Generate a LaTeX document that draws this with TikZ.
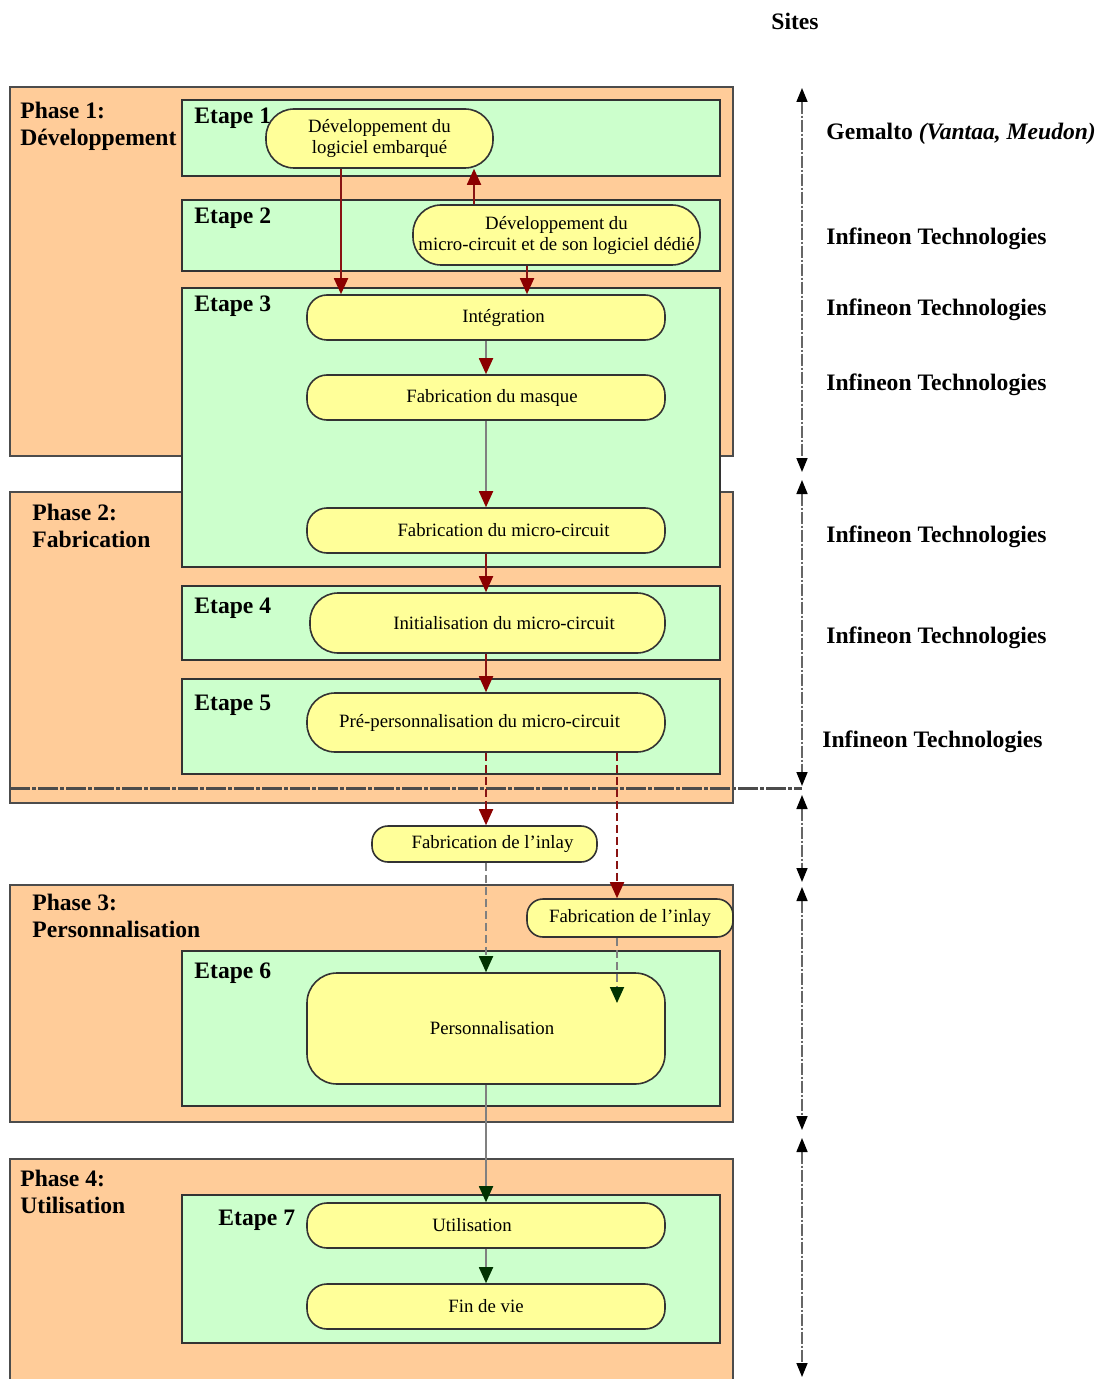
\documentclass[tikz,border=0pt]{standalone}
\usepackage{fontspec}
\setmainfont{Liberation Serif}
\usetikzlibrary{positioning,arrows.meta}

\definecolor{phasefill}{HTML}{FFCC99}
\definecolor{etapefill}{HTML}{CCFFCC}
\definecolor{activityfill}{HTML}{FFFF99}
\definecolor{flowred}{HTML}{8B0000}
\definecolor{flowgreen}{HTML}{003300}

\begin{document}
\begin{tikzpicture}[x=0.5pt, y=-0.5pt,
    phasebox/.style={draw=black!70, fill=phasefill, line width=1pt},
    etapebox/.style={draw=black!80, fill=etapefill, line width=1.2pt},
    activity/.style={draw=black!80, fill=activityfill, line width=0.8pt, inner sep=0pt, align=center,
        font=\fontsize{9.4}{10.5}\selectfont},
    titletext/.style={font=\fontsize{11.8}{13.5}\selectfont\bfseries, inner sep=0pt, align=left},
    redarrow/.style={draw=flowred!85!gray, line width=0.9pt, -{Triangle[length=8pt,width=7pt,color=flowred]}},
    grayred/.style={draw=gray, line width=0.9pt, -{Triangle[length=8pt,width=7pt,color=flowred]}},
    graygreen/.style={draw=gray, line width=0.9pt, -{Triangle[length=8pt,width=7pt,color=flowgreen]}},
    flowdash/.style={dash pattern=on 4pt off 2pt},
    siteaxis/.style={draw=black!60, line width=0.8pt, dash pattern=on 6pt off 1pt on 1pt off 1pt,
        {Triangle[length=7pt,width=5.5pt,color=black]}-{Triangle[length=7pt,width=5.5pt,color=black]}}
    ]
        \useasboundingbox (0,0) rectangle (1101,1379);

        %Phases
        \draw[phasebox] (10,87) rectangle (733,456);
        \draw[phasebox] (10,492) rectangle (733,803);
        \draw[phasebox] (10,885) rectangle (733,1122);
        \draw[phasebox] (10,1159) rectangle (733,1385);

        %Etapes
        \draw[etapebox] (182,100) rectangle (720,176);
        \draw[etapebox] (182,200) rectangle (720,271);
        \draw[etapebox] (182,288) rectangle (720,567);
        \draw[etapebox] (182,586) rectangle (720,660);
        \draw[etapebox] (182,679) rectangle (720,774);
        \draw[etapebox] (182,951) rectangle (720,1106);
        \draw[etapebox] (182,1195) rectangle (720,1343);

        %Titles
        \node[titletext, anchor=north west] (ph1) at (20,102)  {Phase 1:\\Développement};
        \node[titletext, anchor=north west] (ph2) at (32,504)  {Phase 2:\\Fabrication};
        \node[titletext, anchor=north west] (ph3) at (32,894)  {Phase 3:\\Personnalisation};
        \node[titletext, anchor=north west] (ph4) at (20,1170) {Phase 4:\\Utilisation};
        \node[titletext, anchor=base west] (et1) at (194,124)  {Etape 1};
        \node[titletext, anchor=base west] (et2) at (194,224)  {Etape 2};
        \node[titletext, anchor=base west] (et3) at (194,312)  {Etape 3};
        \node[titletext, anchor=base west] (et4) at (194,613)  {Etape 4};
        \node[titletext, anchor=base west] (et5) at (194,710)  {Etape 5};
        \node[titletext, anchor=base west] (et6) at (194,978)  {Etape 6};
        \node[titletext, anchor=base west] (et7) at (218,1225) {Etape 7};

        %Activities
        \node[activity, rounded corners=14pt, minimum width=113.5pt, minimum height=29.5pt]
            (devlog) at (379.5,138.5) {Développement du\\logiciel embarqué};
        \node[activity, rounded corners=14pt, minimum width=143.5pt, minimum height=30pt]
            (devmc) at (556.5,235) {Développement du\\micro-circuit et de son logiciel dédié};
        \node[activity, rounded corners=10pt, minimum width=179pt, minimum height=22.5pt]
            (integ) at (486,317.5) {\hspace*{17.5pt}Intégration};
        \node[activity, rounded corners=10pt, minimum width=179pt, minimum height=22.5pt]
            (masque) at (486,397.5) {\hspace*{6pt}Fabrication du masque};
        \node[activity, rounded corners=10pt, minimum width=179pt, minimum height=22.5pt]
            (fabmc) at (486,530.5) {\hspace*{17.5pt}Fabrication du micro-circuit};
        \node[activity, rounded corners=14pt, minimum width=177.5pt, minimum height=30pt]
            (init) at (487.5,623) {\hspace*{16.5pt}Initialisation du micro-circuit};
        \node[activity, rounded corners=14pt, minimum width=179pt, minimum height=29.5pt]
            (prepers) at (486,722.5) {Pré-personnalisation du micro-circuit\hspace*{6.5pt}};

        %Phase separator
        \draw[draw=black!70, line width=1.5pt, dash pattern=on 10pt off 1pt on 2pt off 1pt]
            (10,788) -- (802,788);

        \node[activity, rounded corners=8pt, minimum width=112.5pt, minimum height=18pt]
            (inlay1) at (484.5,844) {\hspace*{8pt}Fabrication de l’inlay};
        \node[activity, rounded corners=8pt, minimum width=103pt, minimum height=19pt]
            (inlay2) at (630,918) {Fabrication de l’inlay};
        \node[activity, rounded corners=15pt, minimum width=179pt, minimum height=55.5pt]
            (pers) at (486,1028.5) {\hspace*{6pt}Personnalisation};
        \node[activity, rounded corners=10pt, minimum width=179pt, minimum height=22.5pt]
            (util) at (486,1225.5) {Utilisation\hspace*{14pt}};
        \node[activity, rounded corners=10pt, minimum width=179pt, minimum height=22.5pt]
            (fin) at (486,1306.5) {Fin de vie};

        %Columns of the flows
        \coordinate (colA) at (341,0);
        \coordinate (colB) at (474,0);
        \coordinate (colC) at (527,0);
        \coordinate (colD) at (617,0);
        \coordinate (persin) at (617,1003);

        %Flows
        \draw[redarrow] (devlog.south -| colA) -- (integ.north -| colA);
        \draw[redarrow] (devmc.north -| colB) -- (devlog.south -| colB);
        \draw[redarrow] (devmc.south -| colC) -- (integ.north -| colC);
        \draw[grayred] (integ.south) -- (masque.north);
        \draw[grayred] (masque.south) -- (fabmc.north);
        \draw[redarrow] (fabmc.south) -- (fabmc.south |- init.north);
        \draw[redarrow] (init.south -| prepers.north) -- (prepers.north);
        \draw[redarrow, flowdash] (prepers.south) -- (prepers.south |- inlay1.north);
        \draw[redarrow, flowdash] (prepers.south -| colD) -- (inlay2.north -| colD);
        \draw[graygreen, flowdash] (inlay1.south -| pers.north) -- (pers.north);
        \draw[graygreen, flowdash] (inlay2.south -| colD) -- (persin);
        \draw[graygreen] (pers.south) -- (util.north);
        \draw[graygreen] (util.south) -- (fin.north);

        %Sites
        \node[titletext, anchor=base] (sites) at (795,30) {Sites};
        \node[titletext, anchor=base west] (site1) at (826,140) {Gemalto \textit{(Vantaa, Meudon)}};
        \node[titletext, anchor=base west] (site2) at (826,245) {Infineon Technologies};
        \node[titletext, anchor=base west] (site3) at (826,316) {Infineon Technologies};
        \node[titletext, anchor=base west] (site4) at (826,391) {Infineon Technologies};
        \node[titletext, anchor=base west] (site5) at (826,542) {Infineon Technologies};
        \node[titletext, anchor=base west] (site6) at (826,643) {Infineon Technologies};
        \node[titletext, anchor=base west] (site7) at (822,747) {Infineon Technologies};

        %Site axis
        \foreach \ya/\yb [count=\i] in {88/472, 480/786, 795/882, 887/1130, 1138/1377} {
            \coordinate (ax\i a) at (802,\ya);
            \coordinate (ax\i b) at (802,\yb);
            \draw[siteaxis] (ax\i a) -- (ax\i b);
        }
    \end{tikzpicture}
\end{document}
